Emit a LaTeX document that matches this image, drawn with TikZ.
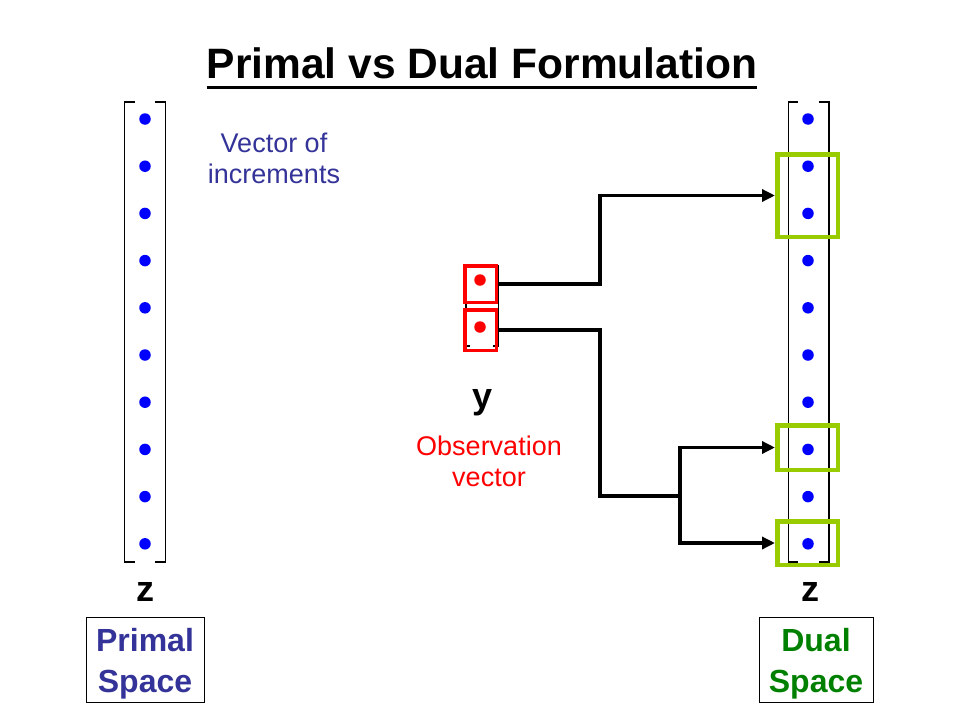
\documentclass[tikz,border=0pt]{standalone}
\usepackage{fontspec}
\setmainfont{Liberation Sans}
\usepackage{tikz}
\usetikzlibrary{arrows.meta}
\definecolor{navy}{RGB}{51,51,153}
\definecolor{vert}{RGB}{0,128,0}
\definecolor{lime}{RGB}{153,204,0}
\newcommand{\zcol}{blue}
\newcommand{\ycol}{red}

\begin{document}
\begin{tikzpicture}[x=1pt, y=-1pt,
    bille/.style={circle, fill=#1, inner sep=0pt, minimum size=11.5pt},
    ybox/.style={draw=\ycol, line width=3.5pt, inner sep=0pt, minimum width=31.5pt},
    gbox/.style={draw=lime, line width=4.5pt, inner sep=0pt, minimum width=60.5pt},
    crochet/.style={line width=1.3pt},
    link/.style={line width=3.5pt},
    fleche/.style={link, -{Triangle[length=13pt, width=12pt]}},
    espace/.style={draw, line width=1pt, font=\fontsize{32}{41}\selectfont\bfseries,
      align=center, minimum height=85pt, inner sep=0pt}]

    \useasboundingbox (0,0) rectangle (960,720);

    % titre
    \node[font=\fontsize{42.5}{50}\selectfont\bfseries, anchor=base, inner sep=0pt] (titre) at (482,78) {Primal vs Dual Formulation};
    \draw[line width=3pt] ([yshift=-9.5pt]titre.base west) -- ([yshift=-9.5pt]titre.base east);

    % crochets
    \draw[crochet] (135,102) -| (124.5,562) -- (135,562);
    \draw[crochet] (155,102) -| (165.5,562) -- (155,562);
    \draw[crochet] (798,102) -| (788.5,562) -- (798,562);
    \draw[crochet] (819,102) -| (829,562) -- (819,562);
    \draw[crochet] (470,266) -| (466,346) -- (470,346);
    \draw[crochet] (493,266) -| (498.5,346) -- (493,346);

    % vecteurs z
    \foreach \k in {0,...,9} {
      \node[bille=\zcol] (p\k) at (145,119+47.2*\k) {};
      \node[bille=\zcol] (d\k) at (808,119+47.2*\k) {};
    }

    % observations y
    \node[ybox, minimum height=36.5pt] (y1) at (480.5,284) {};
    \node[ybox, minimum height=40.5pt] (y2) at (480.5,330) {};
    \node[bille=\ycol] (o1) at (480,280) {};
    \node[bille=\ycol] (o2) at (480,327) {};

    % cadres verts
    \node[gbox, minimum height=82.5pt] (g1) at (807.5,195.5) {};
    \node[gbox, minimum height=44.5pt] (g2) at (807.5,447.5) {};
    \node[gbox, minimum height=43.5pt] (g3) at (807.5,543) {};

    % liens
    \coordinate (coude) at (680,496);
    \draw[fleche] (y1.east) -- ++(102,0) |- (g1.west);
    \draw[link] (y2.east) -- ++(102,0) |- (coude);
    \draw[fleche] (coude) |- (g2.west);
    \draw[fleche] (coude) |- (g3.west);

    % textes
    \node[font=\fontsize{27}{31}\selectfont, text=navy, align=center] (incr) at (274,158) {Vector of\\increments};
    \node[font=\fontsize{36}{40}\selectfont\bfseries] (ylab) at (483,403) {y};
    \node[font=\fontsize{27}{31}\selectfont, text=\ycol, align=center] (obs) at (489,461) {Observation\\vector};
    \node[font=\fontsize{36}{40}\selectfont\bfseries] (zp) at (145,592) {z};
    \node[font=\fontsize{36}{40}\selectfont\bfseries] (zd) at (810,592) {z};
    \node[espace, text=navy, minimum width=118pt] (primal) at (145,660) {\rule{0pt}{31pt}Primal\\Space};
    \node[espace, text=vert, minimum width=114pt] (dual) at (816,660) {\rule{0pt}{31pt}Dual\\Space};

  \end{tikzpicture}
\end{document}
